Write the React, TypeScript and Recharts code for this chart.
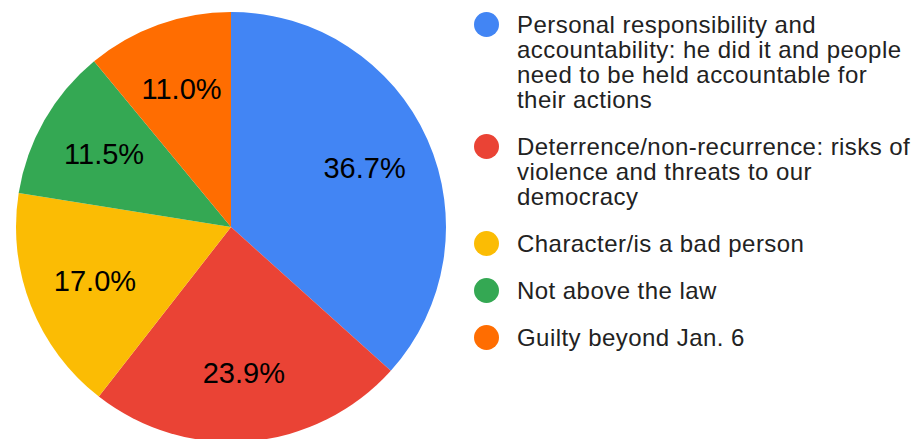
import React from 'react';
import { PieChart, Pie, Cell, Legend } from 'recharts';

// Reasons cited, in chart order (clockwise from 12 o'clock)
const reasons = [
  'Personal responsibility and accountability: he did it and people need to be held accountable for their actions',
  'Deterrence/non-recurrence: risks of violence and threats to our democracy',
  'Character/is a bad person',
  'Not above the law',
  'Guilty beyond Jan. 6',
];
const shares = [36.7, 23.9, 17.0, 11.5, 11.0];
const colors = ['#4285F4', '#EA4335', '#FBBC04', '#34A853', '#FF6D01'];

const data = reasons.map((name, i) => ({ name, value: shares[i] }));

const FONT = '"Liberation Sans", Arial, Helvetica, sans-serif';
const RAD = Math.PI / 180;

// Percentage label inside each slice
const renderLabel = (props: any) => {
  const { cx, cy, midAngle, outerRadius, percent } = props;
  const r = outerRadius * 0.68;
  const x = cx + r * Math.cos(-midAngle * RAD);
  const y = cy + r * Math.sin(-midAngle * RAD);
  return (
    <text
      x={x}
      y={y}
      fill="#000"
      textAnchor="middle"
      dominantBaseline="central"
      fontSize={29}
      fontFamily={FONT}
    >
      {(percent * 100).toFixed(1)}%
    </text>
  );
};

const renderLegend = () => (
  <div style={{ display: 'flex', flexDirection: 'column', gap: 22 }}>
    {reasons.map((name, i) => (
      <div key={name} style={{ display: 'flex', alignItems: 'flex-start' }}>
        <span
          style={{
            width: 25,
            height: 25,
            borderRadius: '50%',
            background: colors[i],
            flex: '0 0 auto',
            marginRight: 18,
          }}
        />
        <span
          style={{
            width: 404,
            fontFamily: FONT,
            fontSize: 24,
            letterSpacing: 0.45,
            lineHeight: '25px',
            color: '#222',
          }}
        >
          {name}
        </span>
      </div>
    ))}
  </div>
);

export default function App() {
  return (
    <div style={{ position: 'absolute', left: 0, top: 0, width: 921, height: 439, background: '#fff' }}>
      <PieChart width={921} height={439} margin={{ top: 0, right: 0, bottom: 0, left: 0 }}>
        <Pie
          data={data}
          dataKey="value"
          nameKey="name"
          cx={231}
          cy={227}
          outerRadius={215}
          startAngle={90}
          endAngle={-270}
          stroke="none"
          label={renderLabel}
          labelLine={false}
          isAnimationActive={false}
        >
          {data.map((d, i) => (
            <Cell key={d.name} fill={colors[i]} />
          ))}
        </Pie>
        <Legend
          layout="vertical"
          align="right"
          verticalAlign="top"
          content={renderLegend}
          wrapperStyle={{ left: 474, top: 12, width: 447 }}
        />
      </PieChart>
    </div>
  );
}
